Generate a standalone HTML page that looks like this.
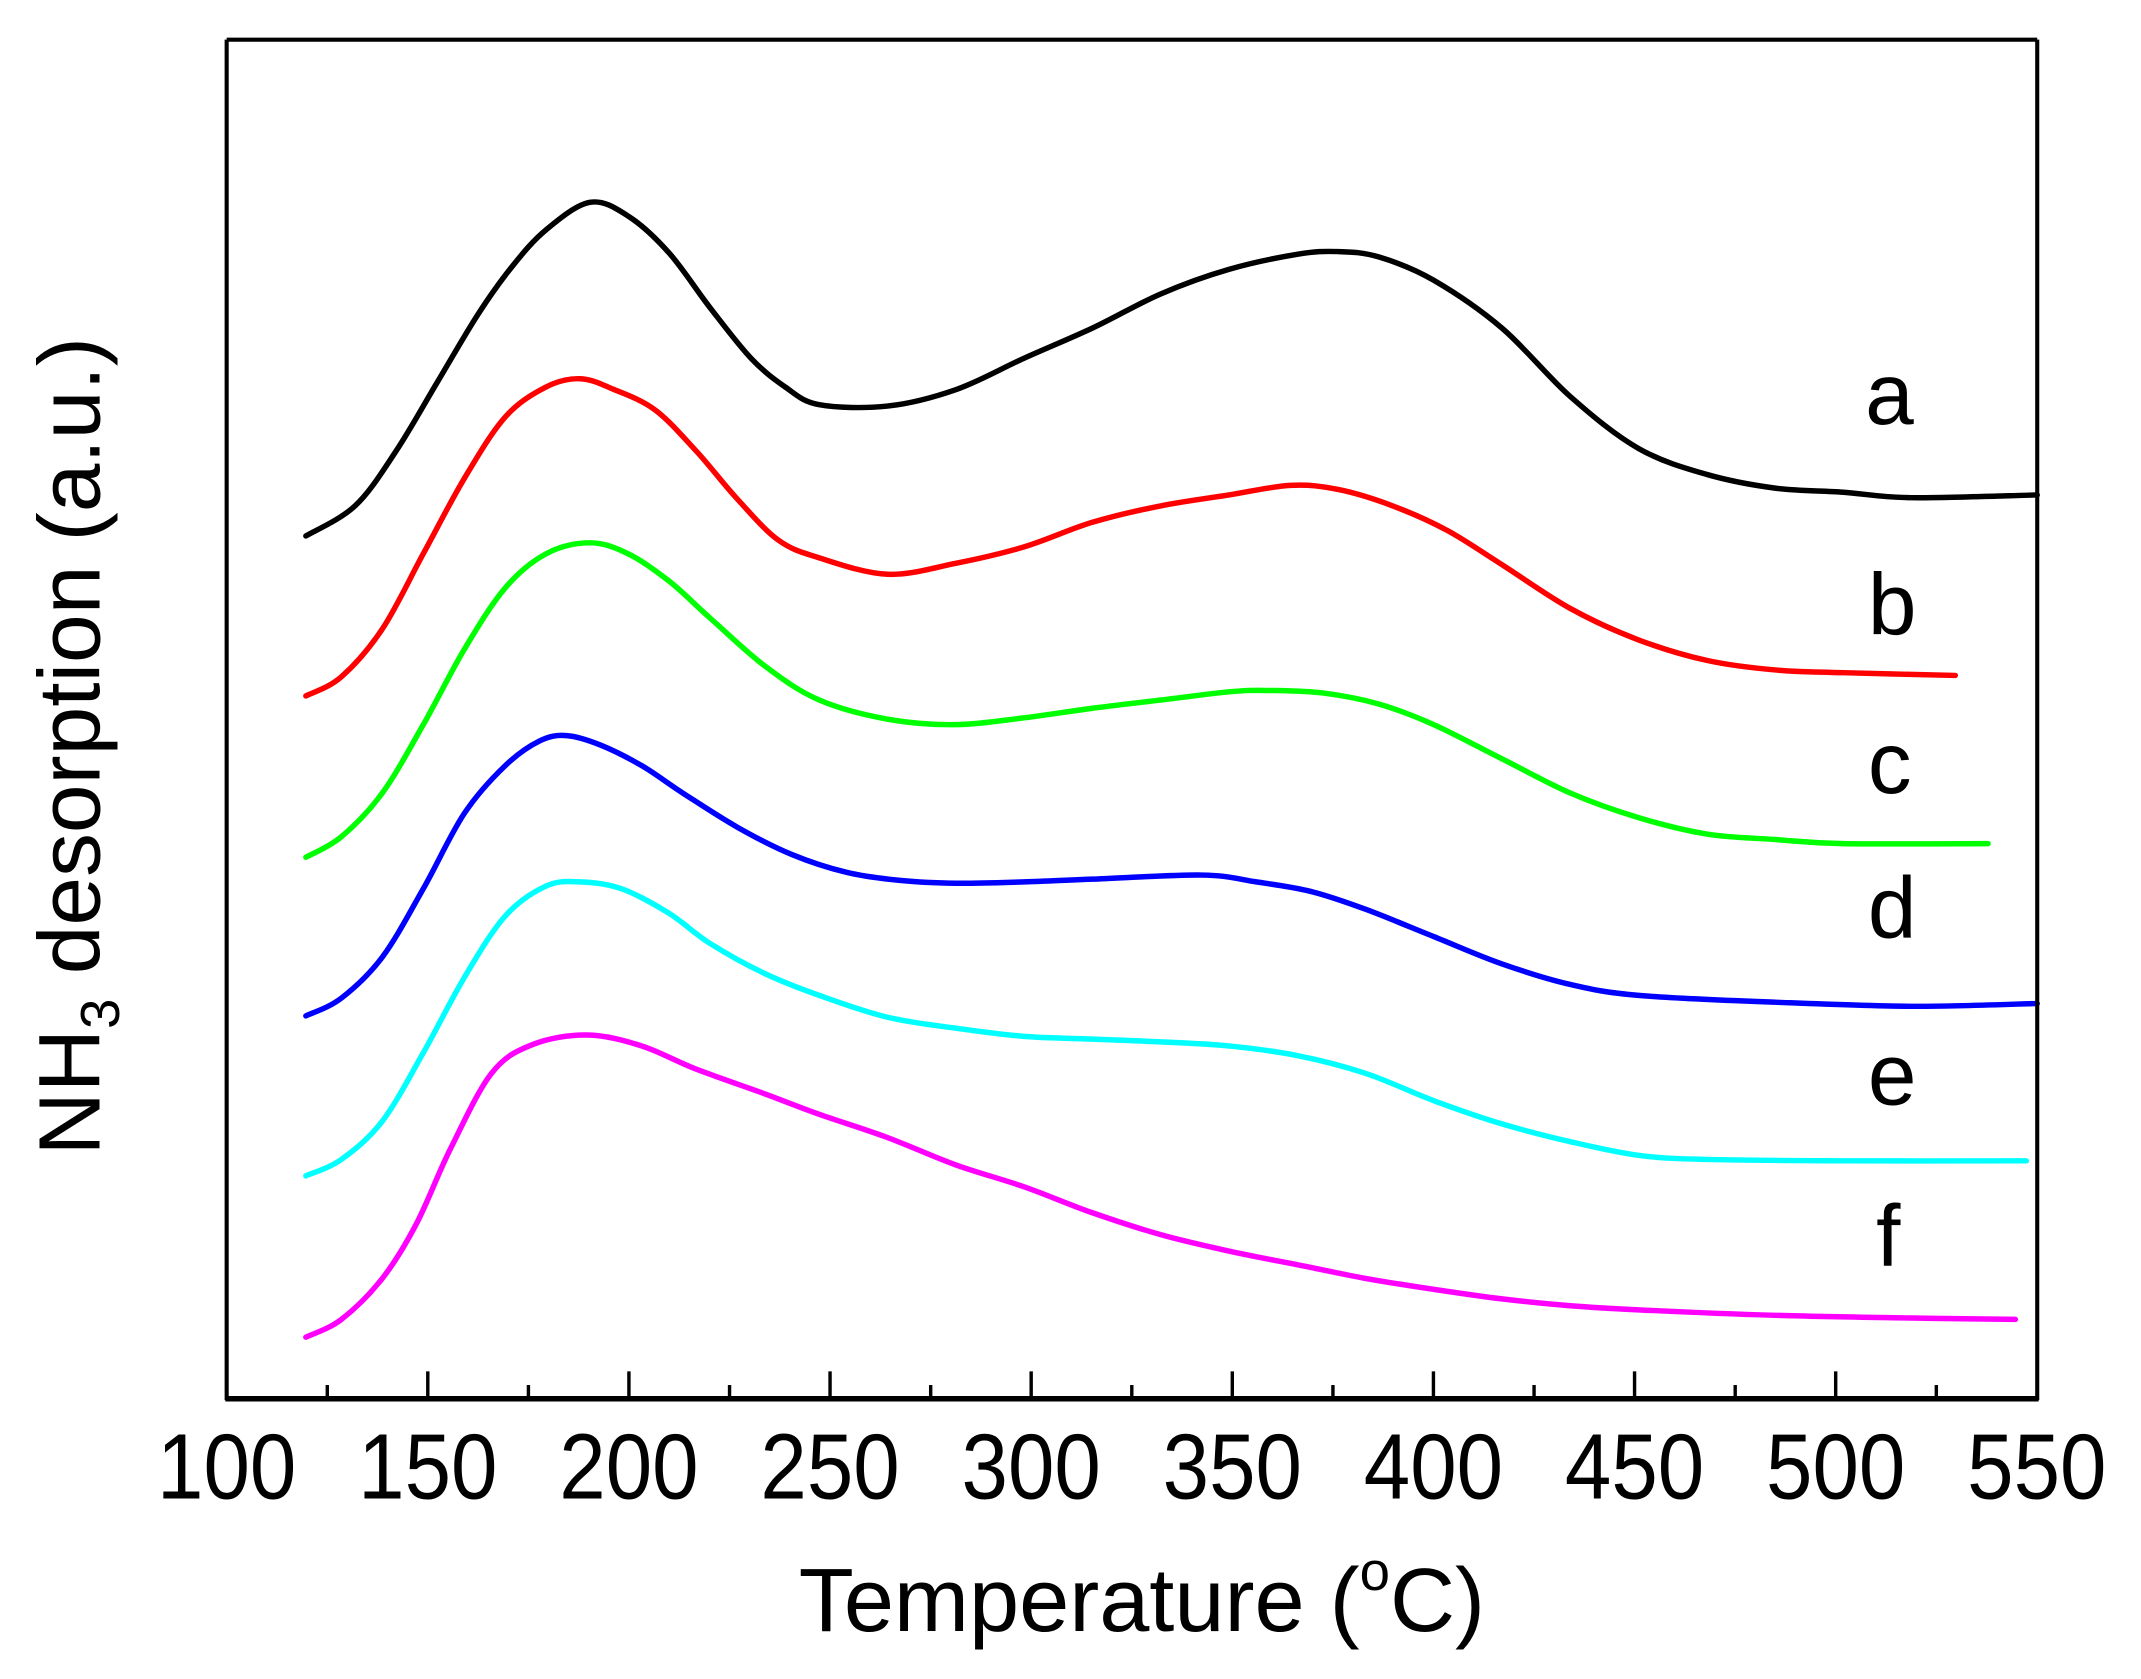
<!DOCTYPE html>
<html><head><meta charset="utf-8"><style>
html,body{margin:0;padding:0;background:#fff;}
svg{display:block;}
text{font-family:"Liberation Sans",Arial,sans-serif;fill:#000;}
</style></head><body>
<svg width="2141" height="1679" viewBox="0 0 1568 1228" preserveAspectRatio="none" xmlns="http://www.w3.org/2000/svg">
<rect x="0" y="0" width="1568" height="1228" fill="#fff"/>
<g id="curves" fill="none" stroke-linejoin="round" stroke-linecap="round" stroke-width="4">
<polyline stroke="#000" points="224,392 260,370 290,330 320,280 350,230 375,195 400,168 432,148 460,158 490,185 520,225 550,262 575,283 600,296 650,297 700,285 750,262 800,240 850,215 900,197 950,186 980,184 1010,188 1050,205 1100,240 1150,290 1200,328 1250,347 1300,357 1350,360 1400,364 1492,362"/>
<polyline stroke="#ff0000" points="224,509 250,495 280,460 310,405 340,350 370,305 400,283 425,277 450,285 480,300 510,330 540,365 570,395 600,408 650,420 700,412 750,400 800,382 850,370 900,362 945,355 980,358 1020,370 1060,388 1100,413 1150,445 1200,468 1250,483 1300,490 1350,492 1432,494"/>
<polyline stroke="#00ff00" points="224,627 250,612 280,580 310,530 340,475 370,430 400,405 432,397 460,405 490,425 520,452 560,487 600,512 650,526 700,530 750,525 800,518 850,512 900,506 930,505 970,507 1010,515 1050,530 1100,555 1150,580 1200,598 1250,610 1300,614 1350,617 1456,617"/>
<polyline stroke="#0000ff" points="224,743 250,730 280,700 310,650 340,595 370,560 395,542 415,538 440,545 470,560 500,580 540,605 580,625 620,638 660,644 700,646 750,645 800,643 880,640 920,645 960,652 1000,665 1050,685 1100,705 1150,720 1200,728 1300,733 1400,736 1492,734"/>
<polyline stroke="#00ffff" points="224,860 250,848 280,820 310,770 340,715 370,670 400,648 425,645 455,650 490,668 520,690 560,712 600,728 650,744 700,752 750,758 800,760 850,762 900,765 950,772 1000,785 1050,805 1100,822 1150,835 1200,845 1250,848 1350,849 1484,849"/>
<polyline stroke="#ff00ff" points="224,978 250,965 280,935 305,895 330,840 360,785 390,764 430,757 470,765 510,782 560,800 600,815 650,832 700,852 750,868 800,887 850,903 900,915 950,925 1000,935 1050,943 1100,950 1150,955 1200,958 1300,962 1400,964 1476,965"/>
</g>
<g stroke="#000" fill="none">
<line x1="166" y1="29" x2="1492" y2="29" stroke-width="3"/>
<line x1="1492" y1="29" x2="1492" y2="1024" stroke-width="3"/>
<line x1="166" y1="29" x2="166" y2="1024" stroke-width="3"/>
<line x1="165" y1="1023" x2="1493" y2="1023" stroke-width="4"/>
<g stroke-width="2.5">
<line x1="313.3" y1="1023" x2="313.3" y2="1003"/><line x1="460.6" y1="1023" x2="460.6" y2="1003"/><line x1="607.9" y1="1023" x2="607.9" y2="1003"/><line x1="755.2" y1="1023" x2="755.2" y2="1003"/><line x1="902.5" y1="1023" x2="902.5" y2="1003"/><line x1="1049.8" y1="1023" x2="1049.8" y2="1003"/><line x1="1197.1" y1="1023" x2="1197.1" y2="1003"/><line x1="1344.4" y1="1023" x2="1344.4" y2="1003"/>
<line x1="239.7" y1="1023" x2="239.7" y2="1013"/><line x1="387" y1="1023" x2="387" y2="1013"/><line x1="534.3" y1="1023" x2="534.3" y2="1013"/><line x1="681.6" y1="1023" x2="681.6" y2="1013"/><line x1="828.9" y1="1023" x2="828.9" y2="1013"/><line x1="976.2" y1="1023" x2="976.2" y2="1013"/><line x1="1123.5" y1="1023" x2="1123.5" y2="1013"/><line x1="1270.8" y1="1023" x2="1270.8" y2="1013"/><line x1="1418.1" y1="1023" x2="1418.1" y2="1013"/>
</g></g>
<g font-size="68" text-anchor="middle">
<text x="166" y="1096" textLength="102" lengthAdjust="spacingAndGlyphs">100</text>
<text x="313.3" y="1096" textLength="102" lengthAdjust="spacingAndGlyphs">150</text>
<text x="460.6" y="1096" textLength="102" lengthAdjust="spacingAndGlyphs">200</text>
<text x="607.9" y="1096" textLength="102" lengthAdjust="spacingAndGlyphs">250</text>
<text x="755.2" y="1096" textLength="102" lengthAdjust="spacingAndGlyphs">300</text>
<text x="902.5" y="1096" textLength="102" lengthAdjust="spacingAndGlyphs">350</text>
<text x="1049.8" y="1096" textLength="102" lengthAdjust="spacingAndGlyphs">400</text>
<text x="1197.1" y="1096" textLength="102" lengthAdjust="spacingAndGlyphs">450</text>
<text x="1344.4" y="1096" textLength="102" lengthAdjust="spacingAndGlyphs">500</text>
<text x="1491.7" y="1096" textLength="102" lengthAdjust="spacingAndGlyphs">550</text>
</g>
<text x="585" y="1193" font-size="66">Temperature (<tspan font-size="40" dy="-30">o</tspan><tspan dy="30">C)</tspan></text>
<text transform="translate(73,845) rotate(-90)" font-size="64">NH<tspan font-size="40" dy="14">3</tspan><tspan dy="-14"> desorption (a.u.)</tspan></text>
<g font-size="64">
<text x="1366" y="310">a</text>
<text x="1368" y="464">b</text>
<text x="1368" y="580">c</text>
<text x="1368" y="686">d</text>
<text x="1368" y="808">e</text>
<text x="1374" y="926">f</text>
</g>
</svg>
<script>
document.querySelectorAll('#curves polyline').forEach(function(pl){
  var pts=pl.getAttribute('points').trim().split(/\s+/).map(function(s){return s.split(',').map(Number);});
  var d='M'+pts[0][0]+','+pts[0][1];
  for(var i=0;i<pts.length-1;i++){
    var p0=pts[i-1]||pts[i],p1=pts[i],p2=pts[i+1],p3=pts[i+2]||p2;
    var c1x=p1[0]+(p2[0]-p0[0])/6,c1y=p1[1]+(p2[1]-p0[1])/6;
    var c2x=p2[0]-(p3[0]-p1[0])/6,c2y=p2[1]-(p3[1]-p1[1])/6;
    d+=' C'+c1x.toFixed(1)+','+c1y.toFixed(1)+' '+c2x.toFixed(1)+','+c2y.toFixed(1)+' '+p2[0]+','+p2[1];
  }
  var p=document.createElementNS('http://www.w3.org/2000/svg','path');
  p.setAttribute('d',d);p.setAttribute('stroke',pl.getAttribute('stroke'));
  pl.parentNode.replaceChild(p,pl);
});
</script>
</body></html>
